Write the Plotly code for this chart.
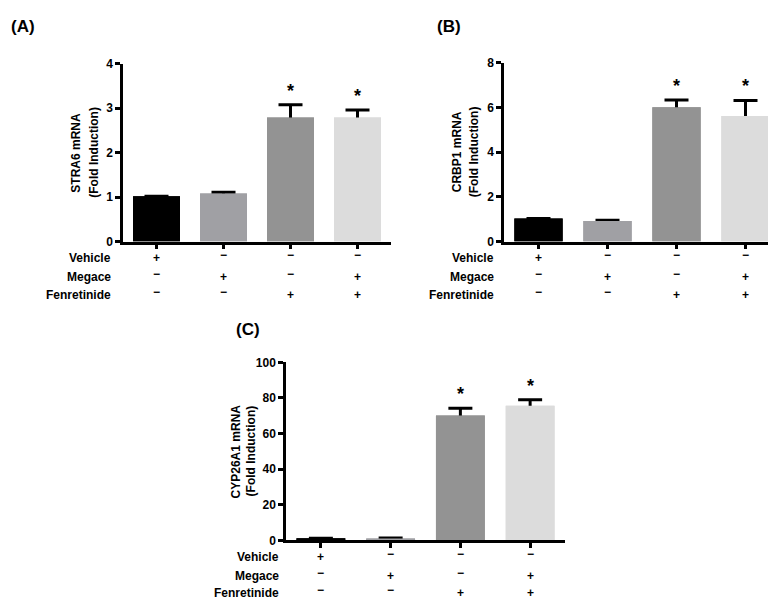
import plotly.graph_objects as go

W, H = 776, 599

# ---------------- data ----------------
groups = ["Vehicle", "Megace", "Fenretinide", "Megace+Fenretinide"]
row_labels = ["Vehicle", "Megace", "Fenretinide"]
row_signs = [
    ["+", "−", "−", "−"],
    ["−", "+", "−", "+"],
    ["−", "−", "+", "+"],
]
bar_colors = ["#000000", "#a0a0a4", "#939393", "#dcdcdc"]

stra6_mean = [1.02, 1.08, 2.79, 2.79]
stra6_err = [0.0, 0.03, 0.29, 0.17]
crbp1_mean = [1.03, 0.92, 6.01, 5.62]
crbp1_err = [0.0, 0.04, 0.33, 0.70]
cyp_mean = [1.2, 1.1, 70.2, 75.7]
cyp_err = [0.0, 0.3, 4.0, 3.3]
star_flags = [False, False, True, True]

panels = [
    dict(letter="(A)", title1="STRA6 mRNA", title2="(Fold Induction)",
         mean=stra6_mean, err=stra6_err, yrange=[0, 4], dtick=1,
         x0=115, x1=383, y0=232, y1=50,
         lab=(15, 12), t1x=68, t2x=86, rowx=105, rowy=[249, 268, 287]),
    dict(letter="(B)", title1="CRBP1 mRNA", title2="(Fold Induction)",
         mean=crbp1_mean, err=crbp1_err, yrange=[0, 8], dtick=2,
         x0=496, x1=772, y0=232, y1=49,
         lab=(441, 12), t1x=449, t2x=466, rowx=488, rowy=[249, 268, 287]),
    dict(letter="(C)", title1="CYP26A1 mRNA", title2="(Fold Induction)",
         mean=cyp_mean, err=cyp_err, yrange=[0, 100], dtick=20,
         x0=278, x1=557, y0=538, y1=355.7,
         lab=(240, 322), t1x=228, t2x=243, rowx=273, rowy=[555, 574, 592]),
]

FONT = "Liberation Sans, Arial, sans-serif"
TXT = 12


def px(x):
    return x / W


def py(y):
    return 1 - y / H


fig = go.Figure()
annotations = []
layout_axes = {}

for i, p in enumerate(panels):
    n = "" if i == 0 else str(i + 1)
    xa, ya = "x" + n, "y" + n
    xs = list(range(len(groups)))
    span = p["yrange"][1] - p["yrange"][0]
    # lower part of the error bar is tucked inside the bar and covered
    minus = [min(m, 0.04 * span) for m in p["mean"]]
    fig.add_trace(go.Bar(
        x=xs, y=p["mean"],
        marker=dict(color=bar_colors, line=dict(width=0)),
        width=0.7,
        error_y=dict(type="data", symmetric=False, array=p["err"],
                     arrayminus=minus, color="black",
                     thickness=3, width=12),
        xaxis=xa, yaxis=ya, showlegend=False, hoverinfo="skip",
    ))
    fig.add_trace(go.Bar(
        x=xs, y=p["mean"],
        marker=dict(color=bar_colors, line=dict(width=0)),
        width=0.7,
        xaxis=xa, yaxis=ya, showlegend=False, hoverinfo="skip",
    ))
    layout_axes["xaxis" + n] = dict(
        domain=[px(p["x0"]), px(p["x1"])], anchor=ya, range=[-0.5, 3.5],
        showline=True, linecolor="black", linewidth=2.5,
        ticks="outside", ticklen=5, tickwidth=2.5, tickcolor="black",
        tickvals=[0, 1, 2, 3], showticklabels=False, showgrid=False,
        zeroline=False, fixedrange=True,
    )
    layout_axes["yaxis" + n] = dict(
        domain=[py(p["y0"]), py(p["y1"])], anchor=xa, range=p["yrange"],
        dtick=p["dtick"], tick0=0,
        showline=True, linecolor="black", linewidth=2.5,
        ticks="outside", ticklen=5, tickwidth=2.5, tickcolor="black",
        tickfont=dict(family=FONT, size=TXT, color="black", weight="bold"),
        showgrid=False, zeroline=False, fixedrange=True,
    )
    # panel letter
    annotations.append(dict(
        text=p["letter"], x=px(p["lab"][0]), y=py(p["lab"][1]),
        xref="paper", yref="paper", xanchor="center", yanchor="middle",
        showarrow=False, font=dict(family=FONT, size=17, color="black", weight="bold"),
    ))
    # y titles
    ymid = py((p["y0"] + p["y1"]) / 2)
    for tx, t in ((p["t1x"], p["title1"]), (p["t2x"], p["title2"])):
        annotations.append(dict(
            text=t, x=px(tx), y=ymid, xref="paper", yref="paper",
            xanchor="center", yanchor="middle", textangle=-90, showarrow=False,
            font=dict(family=FONT, size=TXT, color="black", weight="bold"),
        ))
    # stars
    for k in range(len(groups)):
        if star_flags[k]:
            annotations.append(dict(
                text="*", x=k, y=p["mean"][k] + p["err"][k], xref=xa, yref=ya,
                xanchor="center", yanchor="bottom", yshift=2, showarrow=False,
                font=dict(family=FONT, size=18, color="black", weight="bold"),
            ))
    # row labels and signs
    for r, lab in enumerate(row_labels):
        yy = py(p["rowy"][r])
        annotations.append(dict(
            text=lab, x=px(p["rowx"]), y=yy, xref="paper", yref="paper",
            xanchor="right", yanchor="middle", showarrow=False,
            font=dict(family=FONT, size=TXT, color="black", weight="bold"),
        ))
        for k in range(len(groups)):
            s = row_signs[r][k]
            annotations.append(dict(
                text=s, x=k, y=yy, xref=xa, yref="paper",
                xanchor="center", yanchor="middle", showarrow=False,
                yshift=3 if s == "−" else 0,
                font=dict(family=FONT, size=TXT, color="black", weight="bold"),
            ))

fig.update_layout(
    width=W, height=H, margin=dict(l=0, r=0, t=0, b=0),
    paper_bgcolor="white", plot_bgcolor="white", barmode="overlay",
    annotations=annotations, **layout_axes,
)
fig.write_html("out.html")
